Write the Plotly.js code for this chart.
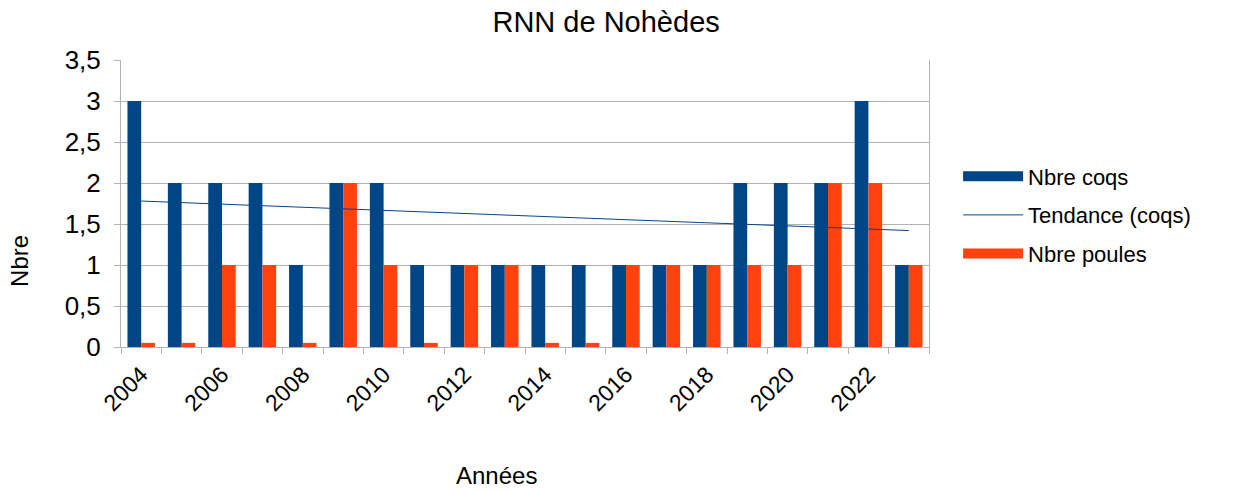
<!DOCTYPE html>
<html>
<head>
<meta charset="utf-8">
<script src="https://cdn.plot.ly/plotly-3.0.1.min.js"></script>
<style>
  html, body { margin: 0; padding: 0; background: #fff; }
  #chart { width: 1237px; height: 490px; }
</style>
</head>
<body>
<div id="chart"></div>
<script>
// Chart data
const years = [2004, 2005, 2006, 2007, 2008, 2009, 2010, 2011, 2012, 2013,
               2014, 2015, 2016, 2017, 2018, 2019, 2020, 2021, 2022, 2023];
const coqs = [3, 2, 2, 2, 1, 2, 2, 1, 1, 1, 1, 1, 1, 1, 1, 2, 2, 2, 3, 1];
const poules = [0.05, 0.05, 1, 1, 0.05, 2, 1, 0.05, 1, 1, 0.05, 0.05, 1, 1, 1, 1, 1, 2, 2, 1];
const trendYears = [2004, 2023];
const trendValues = [1.78, 1.42];
const yTicks = [0, 0.5, 1, 1.5, 2, 2.5, 3, 3.5];
const yTickText = ['0', '0,5', '1', '1,5', '2', '2,5', '3', '3,5'];
const xTicks = years.filter((y, i) => i % 2 === 0);

const blue = '#004586';
const orange = '#ff420e';
const grey = '#b3b3b3';

// bars are drawn without legend entries; wide legend swatches come from empty line traces
const traces = [
  { x: years, y: coqs, type: 'bar', name: 'Nbre coqs', marker: { color: blue }, showlegend: false },
  { x: years, y: poules, type: 'bar', name: 'Nbre poules', marker: { color: orange }, showlegend: false },
  { x: trendYears, y: trendValues, type: 'scatter', mode: 'lines', name: 'Tendance (coqs)',
    line: { color: blue, width: 1 }, legendrank: 2, legendgroup: 'b' },
  { x: [null], y: [null], type: 'scatter', mode: 'lines', name: 'Nbre coqs',
    line: { color: blue, width: 16 }, legendrank: 1, legendgroup: 'a' },
  { x: [null], y: [null], type: 'scatter', mode: 'lines', name: 'Nbre poules',
    line: { color: orange, width: 16 }, legendrank: 3, legendgroup: 'c' }
];

const layout = {
  width: 1237,
  height: 490,
  margin: { l: 121, r: 308, t: 60, b: 143 },
  paper_bgcolor: 'white',
  plot_bgcolor: 'white',
  font: { family: '"Liberation Sans", Arial, sans-serif', color: '#000' },
  title: { text: 'RNN de Nohèdes', font: { size: 29 }, x: 0.49, xanchor: 'center', y: 0.955, yanchor: 'middle' },
  barmode: 'group',
  bargap: 0.32,
  bargroupgap: 0,
  showlegend: true,
  legend: {
    x: 1.036, xanchor: 'left', y: 0.46, yanchor: 'middle',
    font: { size: 22 }, traceorder: 'grouped', itemwidth: 60, tracegroupgap: 7
  },
  xaxis: {
    range: [2003.5, 2023.5],
    tickmode: 'array',
    tickvals: xTicks,
    ticktext: xTicks.map(String),
    tickangle: -45,
    tickfont: { size: 23 },
    ticks: '',
    ticklabelstandoff: 4,
    showgrid: false,
    zeroline: false,
    showline: true,
    linecolor: grey,
    linewidth: 1,
    minor: { tick0: 2003.5, dtick: 1, ticks: 'outside', ticklen: 6, tickcolor: grey, showgrid: false }
  },
  yaxis: {
    range: [0, 3.5],
    tickmode: 'array',
    tickvals: yTicks,
    ticktext: yTickText,
    tickfont: { size: 26 },
    ticks: 'outside',
    ticklen: 6,
    tickcolor: grey,
    ticklabelstandoff: 8,
    showgrid: true,
    gridcolor: grey,
    gridwidth: 1,
    zeroline: false,
    showline: true,
    linecolor: grey,
    mirror: true
  },
  annotations: [
    { text: 'Années', xref: 'paper', yref: 'paper', x: 0.465, y: -0.446,
      xanchor: 'center', yanchor: 'middle', showarrow: false, font: { size: 24 } },
    { text: 'Nbre', xref: 'paper', yref: 'paper', x: -0.125, y: 0.3, textangle: -90,
      xanchor: 'center', yanchor: 'middle', showarrow: false, font: { size: 24 } }
  ]
};

Plotly.newPlot('chart', traces, layout, { staticPlot: true });
</script>
</body>
</html>
